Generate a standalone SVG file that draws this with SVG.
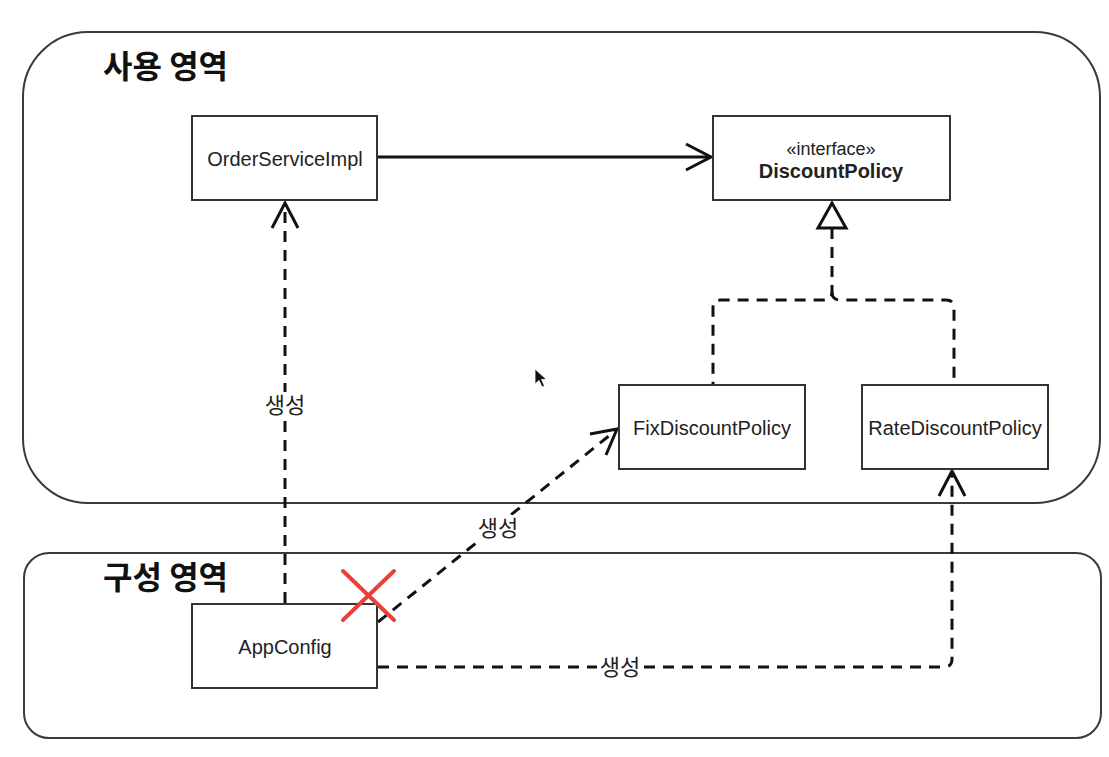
<svg xmlns="http://www.w3.org/2000/svg" width="1109" height="757" viewBox="0 0 1109 757">
<style>
.area{fill:none;stroke:#3a3a3a;stroke-width:2}
.box{fill:#fff;stroke:#333;stroke-width:2}
.t{font-family:"Liberation Sans",Arial,sans-serif;font-size:20px;fill:#222;text-anchor:middle}
.tb{font-family:"Liberation Sans",Arial,sans-serif;font-size:20px;font-weight:bold;fill:#222;text-anchor:middle}
.ts{font-family:"Liberation Sans",Arial,sans-serif;font-size:18px;fill:#222;text-anchor:middle}
.title{font-family:"Noto Sans CJK KR","Noto Sans CJK SC",sans-serif;font-size:32px;font-weight:bold;fill:#111}
.lbl{font-family:"Noto Sans CJK KR","Noto Sans CJK SC",sans-serif;font-size:22px;fill:#222;text-anchor:middle}
.solid{fill:none;stroke:#111;stroke-width:3}
.dash{fill:none;stroke:#111;stroke-width:3;stroke-dasharray:11 8}
.head{fill:none;stroke:#111;stroke-width:3;stroke-linejoin:miter}
.tri{fill:#fff;stroke:#111;stroke-width:3;stroke-linejoin:miter}
.x{stroke:#e8403a;stroke-width:4;stroke-linecap:round}
</style>
<rect width="1109" height="757" fill="#fff"/>
<g id="area-use">
<rect class="area" x="23" y="32" width="1077" height="471" rx="65" ry="65"/>
<text class="title" x="103" y="78">사용 영역</text>
</g>
<g id="area-config">
<rect class="area" x="24" y="553" width="1077" height="185" rx="25" ry="25"/>
<text class="title" x="103" y="589">구성 영역</text>
</g>
<g id="connectors">
<line class="solid" x1="378" y1="157" x2="711" y2="157"/>
<polyline class="head" points="686,144 711,157 686,170"/>
<path class="dash" d="M832,228 V292 Q832,300 824,300 H721 Q713,300 713,308 V385"/>
<path class="dash" d="M832,292 Q832,300 840,300 H946 Q954,300 954,308 V385"/>
<polygon class="tri" points="832,203 818,228 846,228"/>
<line class="dash" x1="285" y1="603" x2="285" y2="204"/>
<polyline class="head" points="272,228 285,203 298,228"/>
<line class="dash" x1="378" y1="622" x2="615" y2="431"/>
<polyline class="head" points="590,434 617,429 606,455"/>
<path class="dash" d="M378,667 H944 Q952,667 952,659 V472"/>
<polyline class="head" points="939,496 952,471 965,496"/>
<rect x="261" y="392" width="48" height="27" fill="#fff"/>
<text class="lbl" x="285" y="413">생성</text>
<rect x="474" y="515" width="48" height="27" fill="#fff"/>
<text class="lbl" x="498" y="536">생성</text>
<rect x="597" y="654" width="46" height="27" fill="#fff"/>
<text class="lbl" x="620" y="675">생성</text>
</g>
<g id="OrderServiceImpl">
<rect class="box" x="192" y="116" width="185" height="84"/>
<text class="t" x="285" y="166">OrderServiceImpl</text>
</g>
<g id="DiscountPolicy">
<rect class="box" x="713" y="116" width="237" height="84"/>
<text class="ts" x="831" y="155">«interface»</text>
<text class="tb" x="831" y="178">DiscountPolicy</text>
</g>
<g id="FixDiscountPolicy">
<rect class="box" x="619" y="385" width="186" height="84"/>
<text class="t" x="712" y="435">FixDiscountPolicy</text>
</g>
<g id="RateDiscountPolicy">
<rect class="box" x="862" y="385" width="186" height="84"/>
<text class="t" x="955" y="435">RateDiscountPolicy</text>
</g>
<g id="AppConfig">
<rect class="box" x="192" y="604" width="185" height="84"/>
<text class="t" x="285" y="654">AppConfig</text>
</g>
<g id="cross">
<line class="x" x1="343" y1="571" x2="394" y2="620"/>
<line class="x" x1="394" y1="571" x2="343" y2="620"/>
</g>
<g id="cursor">
<path d="M535,369 L535,384 L539,380.5 L542,387 L544.5,386 L541.5,379.5 L546.5,379.5 Z" fill="#111" stroke="#fff" stroke-width="0.8"/>
</g>
</svg>
